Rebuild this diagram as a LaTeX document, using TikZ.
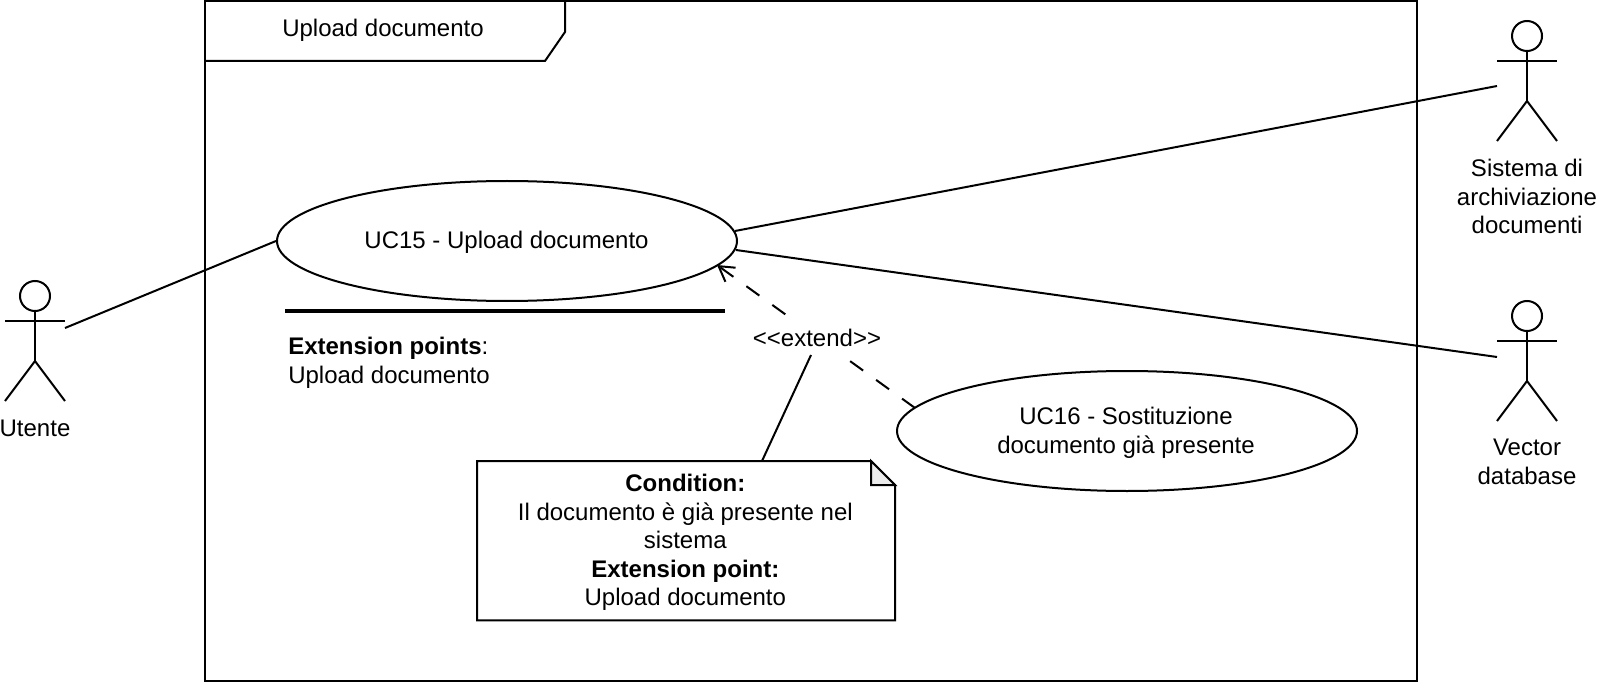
\documentclass[tikz,border=0pt]{standalone}
\usepackage{fontspec}
\setmainfont{Liberation Sans}
\usetikzlibrary{shapes.geometric,arrows.meta}
\tikzset{
  line/.style={line width=1.5pt,black},
  usecase/.style={draw,ellipse,line width=1.5pt,inner sep=0pt,minimum width=345pt,minimum height=90pt},
  txt/.style={inner sep=0pt,align=center,font=\ucfont},
  ghost/.style={inner sep=0pt,outer sep=0pt,minimum width=45pt,minimum height=90pt},
  openhead/.style={-{Straight Barb[length=11pt,width=13pt,line width=1.5pt]}},
  dashline/.style={line width=1.5pt,dash pattern=on 12pt off 12pt}
}
\newcommand{\ucfont}{\fontsize{18pt}{21.4pt}\selectfont}
\newcommand{\actorfig}[1]{%
  \draw[line] (#1.north) ++(0,15) circle[radius=11.25pt];
  \draw[line] (#1.north) ++(0,30) -- ++(0,50);
  \draw[line] (#1.north west) ++(0,40) -- ++(60,0);
  \draw[line] (#1.south west) -- ++(30,-40) -- ++(30,40);
}
\begin{document}
\begin{tikzpicture}[x=0.75pt,y=-0.75pt]
\useasboundingbox (0,0) rectangle (1598,684);
% frame
\node[inner sep=0pt,outer sep=0pt,minimum width=909pt,minimum height=510.25pt,anchor=north west] (frame) at (205,1) {};
\draw[line] (frame.north west) rectangle (frame.south east);
\coordinate (tabA) at (565,1);
\coordinate (tabB) at (565,32);
\coordinate (tabC) at (545,61);
\coordinate (tabD) at (205,61);
\draw[line] (tabA) -- (tabB) -- (tabC) -- (tabD);
\node[txt] (tabtext) at (383,30) {Upload documento};
% use cases
\node[usecase] (uc15) at (507,241) {};
\node[txt] (uc15t) at (506.5,242) {UC15 - Upload documento};
\node[usecase] (uc16) at (1127,431) {};
\node[txt] (uc16t) at (1126,433) {UC16 - Sostituzione\\documento già presente};
\coordinate (sepL) at (285,311);
\coordinate (sepR) at (725,311);
\draw[line width=2.4pt] (sepL) -- (sepR);
\node[txt,align=left,anchor=north west] (ext) at (288,337) {\textbf{Extension points}:\\Upload documento};
% actors
\node[ghost] (utente) at (35,341) {};
\node[ghost] (sis) at (1527,81) {};
\node[ghost] (vec) at (1527,361) {};
\actorfig{utente}
\actorfig{sis}
\actorfig{vec}
\node[txt,anchor=north] (utentel) at (35,420) {Utente};
\node[txt,anchor=north] (sisl) at (1527,159) {Sistema di\\archiviazione\\documenti};
\node[txt,anchor=north] (vecl) at (1527,439) {Vector\\database};
% associations
\coordinate (utenteport) at (65,328);
\coordinate (sisport) at (1497,86);
\coordinate (vecport) at (1497,357);
\coordinate (ucA) at (735,231);
\coordinate (ucB) at (736,250);
\draw[line] (utenteport) -- (uc15.west);
\draw[line] (ucA) -- (sisport);
\draw[line] (ucB) -- (vecport);
% extend
\coordinate (extfrom) at (915,408);
\coordinate (extto) at (717,265);
\draw[dashline,openhead] (extfrom) -- (extto);
\node[txt,fill=white,inner xsep=0pt,inner ysep=0pt,minimum height=24pt,minimum width=95pt] (extlabel) at (817,337.5) {<{}<extend>{}>};
% note
\node[inner sep=0pt,outer sep=0pt,minimum width=313.5pt,minimum height=119.5pt,anchor=north west] (note) at (477,461) {};
\coordinate (foldA) at (871,461);
\coordinate (foldB) at (895,485);
\coordinate (foldC) at (871,485);
\draw[line,fill=white] (note.north west) -- (foldA) -- (foldB) -- (note.south east) -- (note.south west) -- cycle;
\draw[line,fill=black!8] (foldA) -- (foldC) -- (foldB) -- cycle;
\node[txt] (notet) at ([xshift=-0.5pt,yshift=-1.5pt]note.center) {\textbf{Condition:}\\Il documento è già presente nel\\sistema\\\textbf{Extension point:}\\Upload documento};
\coordinate (linkA) at (811,355);
\coordinate (linkB) at (762,461);
\draw[line] (linkA) -- (linkB);
\end{tikzpicture}
\end{document}
